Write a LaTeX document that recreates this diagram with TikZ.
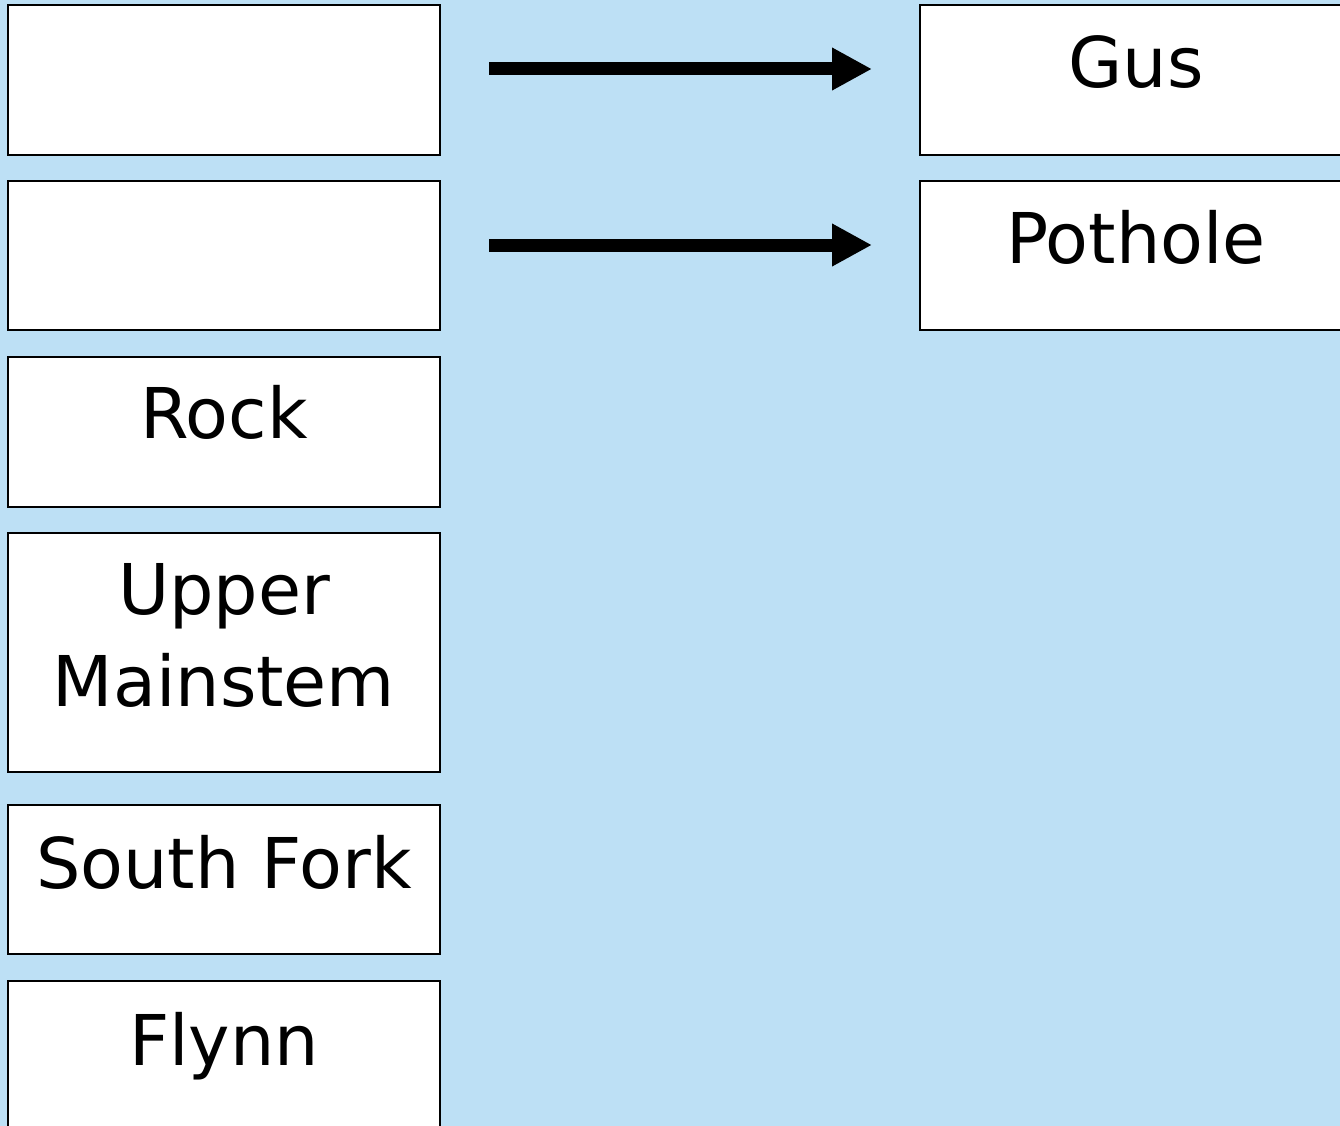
\documentclass[tikz,border=0pt]{standalone}
\usepackage{fontspec}
\setmainfont{DejaVu Sans}
\usetikzlibrary{arrows.meta}
\definecolor{bgblue}{RGB}{189,224,245}
\tikzset{
  box/.style={draw=black, fill=white, line width=2pt, inner sep=0pt, minimum width=432pt, minimum height=150pt},
  lbl/.style={anchor=base, inner sep=0pt, font=\fontsize{70}{84}\selectfont},
  bigarrow/.style={line width=13pt, -{Triangle[length=40pt,width=40pt]}, shorten <=48pt, shorten >=47pt}
}
\begin{document}
\begin{tikzpicture}[x=1pt, y=-1pt]
\useasboundingbox (0,0) rectangle (1340,1126);
\clip (0,0) rectangle (1340,1126);
\fill[bgblue] (0,0) rectangle (1340,1126);
% left column
\node[box] (L1) at (224,80) {};
\node[box, minimum height=149pt] (L2) at (224,255.5) {};
\node[box] (L3) at (224,432) {};
\node[box, minimum height=239pt] (L4) at (224,652.5) {};
\node[box, minimum height=149pt] (L5) at (224,879.5) {};
\node[box] (L6) at (224,1056) {};
% right column
\node[box] (R1) at (1136,80) {};
\node[box, minimum height=149pt] (R2) at (1136,255.5) {};
% labels
\node[lbl] (tR1) at (1136,88) {Gus};
\node[lbl] (tR2) at (1136,263) {Pothole};
\node[lbl] (tL3) at (224,438) {Rock};
\node[lbl] (tL4a) at (224,614) {Upper};
\node[lbl] (tL4b) at (224,706) {Mainstem};
\node[lbl] (tL5) at (224,888) {South Fork};
\node[lbl] (tL6) at (224,1065) {Flynn};
% arrows
\draw[bigarrow] ([yshift=11pt]L1.east) -- ([yshift=11pt]R1.west);
\draw[bigarrow] ([yshift=10.5pt]L2.east) -- ([yshift=10.5pt]R2.west);
\end{tikzpicture}
\end{document}
